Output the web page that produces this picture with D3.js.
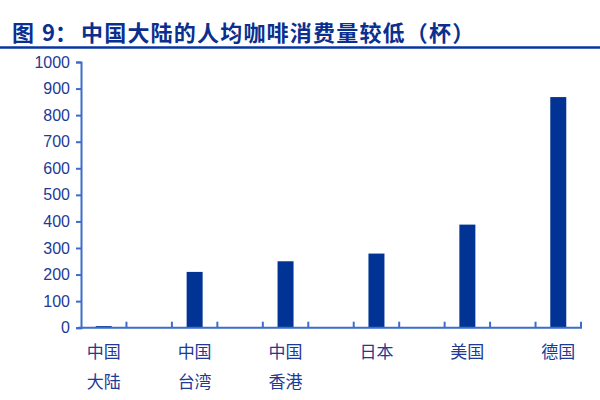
<!DOCTYPE html>
<html>
<head>
<meta charset="utf-8">
<script src="https://cdn.jsdelivr.net/npm/d3@7"></script>
<style>
  body { margin: 0; background: #fff; }
  svg { display: block; font-family: "Liberation Sans", Arial, "Noto Sans CJK SC", sans-serif; }
</style>
</head>
<body>
<svg id="chart" width="600" height="400"></svg>
<script>
// data
var titlePrefix = '图 9：';
var titleText = '中国大陆的人均咖啡消费量较低（杯）';
var categories = [['中国', '大陆'], ['中国', '台湾'], ['中国', '香港'], ['日本'], ['美国'], ['德国']];
var values = [6, 210, 250, 279, 388, 868];
var yTicks = [0, 100, 200, 300, 400, 500, 600, 700, 800, 900, 1000];

var svg = d3.select('#chart');
var barColor = '#003393', axisColor = '#3d6cc9', textColor = '#1c3a96';

// title
var title = svg.append('text')
    .attr('y', 41)
    .style('font-family', '"Noto Sans CJK SC", sans-serif')
    .style('font-weight', 'bold').style('font-size', '22px')
    .style('fill', '#0b2f8e');
title.append('tspan').attr('x', 12).text(titlePrefix.split(' ')[0]);
title.append('tspan').attr('x', 42).text(titlePrefix.split(' ')[1]);
title.append('tspan').attr('x', 81).style('letter-spacing', '1.2px').text(titleText);
svg.append('line')
    .attr('x1', 0).attr('x2', 600).attr('y1', 47.5).attr('y2', 47.5)
    .style('stroke', '#0a35a0').style('stroke-width', 2.5);

// scales: 11 slots, bars sit in every other slot
var slots = d3.range(categories.length * 2 - 1);
var x = d3.scaleBand().domain(slots).range([81, 581]);
var y = d3.scaleLinear().domain([0, 1000]).range([327.7, 62]);

// y axis
var yAxis = svg.append('g').attr('transform', 'translate(81,0)')
    .call(d3.axisLeft(y).tickValues(yTicks).tickFormat(d3.format('d')).tickSize(5).tickPadding(6));
yAxis.select('.domain').style('stroke', axisColor).style('stroke-width', 2);
yAxis.selectAll('.tick line').style('stroke', axisColor).style('stroke-width', 2);
yAxis.selectAll('.tick text').style('fill', textColor).style('font-size', '16px')
    .style('font-family', '"Liberation Sans", Arial, sans-serif');

// bars
svg.selectAll('.bar').data(values).enter().append('rect')
    .attr('class', 'bar')
    .attr('x', (d, i) => x(i * 2) + x.bandwidth() / 2 - 8)
    .attr('width', 16)
    .attr('y', d => y(d))
    .attr('height', d => y(0) - y(d))
    .style('fill', barColor);

// x axis with ticks between slots, pointing up
var xBounds = slots.map(s => x(s)).concat([x.range()[1]]);
var xg = svg.append('g');
xg.append('line')
    .attr('x1', 78).attr('x2', 582).attr('y1', y(0)).attr('y2', y(0))
    .style('stroke', axisColor).style('stroke-width', 2);
xg.selectAll('.xt').data(xBounds.slice(1)).enter().append('line')
    .attr('class', 'xt')
    .attr('x1', d => d).attr('x2', d => d)
    .attr('y1', y(0)).attr('y2', y(0) - 6)
    .style('stroke', axisColor).style('stroke-width', 2);

// category labels
var lbl = svg.selectAll('.cat').data(categories).enter().append('text')
    .attr('class', 'cat')
    .attr('text-anchor', 'middle')
    .style('font-family', '"Noto Sans CJK SC", sans-serif')
    .style('font-size', '17px').style('fill', textColor);
lbl.selectAll('tspan').data((d, i) => d.map(t => ({ t: t, i: i }))).enter().append('tspan')
    .attr('x', d => x(d.i * 2) + x.bandwidth() / 2)
    .attr('y', (d, j) => 358 + j * 30)
    .text(d => d.t);
</script>
</body>
</html>
